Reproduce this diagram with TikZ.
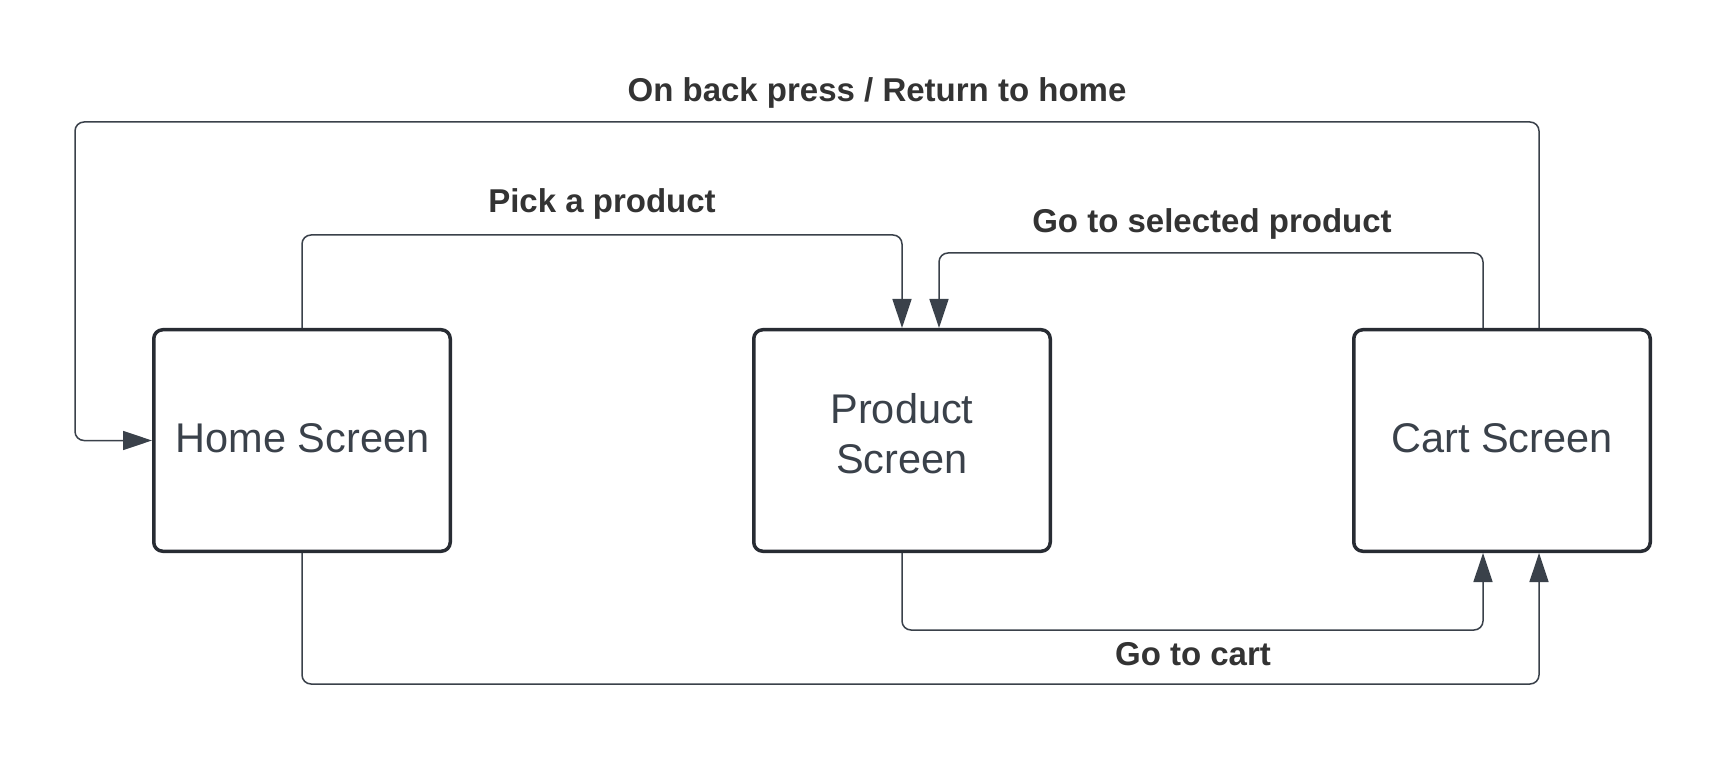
\documentclass[tikz,border=0pt]{standalone}
\usepackage{fontspec}
\setmainfont{Liberation Sans}
\usetikzlibrary{arrows.meta}
\definecolor{boxline}{HTML}{282C33}
\definecolor{connline}{HTML}{3A414A}
\definecolor{boxtxt}{HTML}{3A414A}
\definecolor{lbltxt}{HTML}{333333}
\begin{document}
\begin{tikzpicture}[x=1pt,y=-1pt,
  screenbox/.style={draw=boxline, line width=3.5pt, rounded corners=9pt, minimum width=296.5pt, minimum height=221.5pt, inner sep=0pt, fill=white},
  screentext/.style={text=boxtxt, font=\fontsize{41.5}{48}\selectfont, inner sep=0pt, anchor=base},
  flowlabel/.style={text=lbltxt, font=\fontsize{33}{40}\selectfont\bfseries, inner sep=0pt, anchor=base},
  flow/.style={draw=connline, line width=1.5pt, rounded corners=9pt},
  flowarrow/.style={flow, -{Triangle[length=29pt,width=19pt]}}]
\useasboundingbox[fill=white] (0,0) rectangle (1727,759);

% boxes
\node[screenbox] (home) at (302,440.5) {};
\node[screenbox] (product) at (902,440.5) {};
\node[screenbox] (cart) at (1502,440.5) {};
\node[screentext] (hometext) at (302.5,452) {Home Screen};
\node[screentext] (prodtext1) at (902,423) {Product};
\node[screentext] (prodtext2) at (902,473) {Screen};
\node[screentext] (carttext) at (1502,452) {Cart Screen};

% labels
\node[flowlabel] (lback) at (877,102) {On back press / Return to home};
\node[flowlabel] (lpick) at (602,213) {Pick a product};
\node[flowlabel] (lsel) at (1212,233) {Go to selected product};
\node[flowlabel] (lcart) at (1193,665) {Go to cart};

% helper coordinates
\coordinate (ytop) at (75,122);
\coordinate (ypick) at (0,235);
\coordinate (ysel) at (0,253);
\coordinate (ygc) at (0,630);
\coordinate (ybot) at (0,684);
\coordinate (cartN1) at ([xshift=-19pt]cart.north);
\coordinate (cartN2) at ([xshift=37pt]cart.north);
\coordinate (cartS1) at ([xshift=-19pt]cart.south);
\coordinate (cartS2) at ([xshift=37pt]cart.south);
\coordinate (prodN2) at ([xshift=37pt]product.north);

% connectors
\draw[flowarrow] (home.north) -- (home.north |- ypick) -| (product.north);
\draw[flowarrow] (cartN1) -- (cartN1 |- ysel) -| (prodN2);
\draw[flowarrow] (cartN2) |- (ytop) |- (home.west);
\draw[flowarrow] (product.south) -- (product.south |- ygc) -| (cartS1);
\draw[flowarrow] (home.south) -- (home.south |- ybot) -| (cartS2);
\end{tikzpicture}
\end{document}
